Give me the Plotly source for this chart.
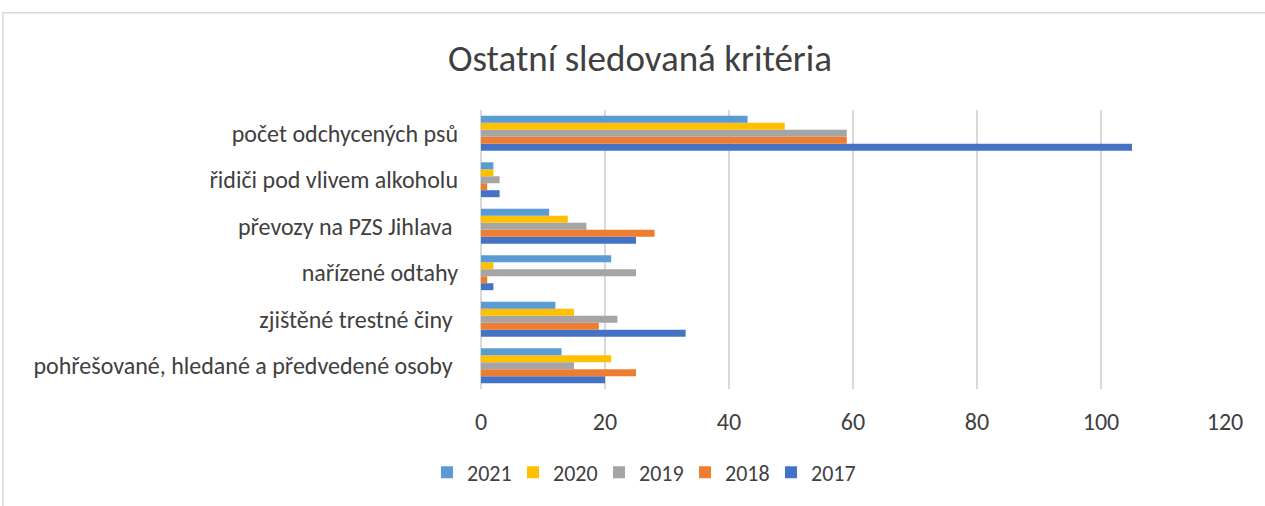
import plotly.graph_objects as go

categories = [
    "pohřešované, hledané a předvedené osoby ",
    "zjištěné trestné činy ",
    "nařízené odtahy",
    "převozy na PZS Jihlava ",
    "řidiči pod vlivem alkoholu",
    "počet odchycených psů",
]
years = ["2017", "2018", "2019", "2020", "2021"]
v2017 = [20, 33, 2, 25, 3, 105]
v2018 = [25, 19, 1, 28, 1, 59]
v2019 = [15, 22, 25, 17, 3, 59]
v2020 = [21, 15, 2, 14, 2, 49]
v2021 = [13, 12, 21, 11, 2, 43]
colors = ["#4472C4", "#ED7D31", "#A5A5A5", "#FFC000", "#5B9BD5"]
x_ticks = [0, 20, 40, 60, 80, 100, 120]

series = [v2017, v2018, v2019, v2020, v2021]

fig = go.Figure()
for name, vals, col in zip(years, series, colors):
    fig.add_trace(go.Bar(
        y=categories, x=vals, name=name, orientation="h",
        marker=dict(color=col, line=dict(width=0)),
    ))

L, R, T, B = 481, 40, 110, 115
PW, PH = 1265 - L - R, 506 - T - B

font_family = "Carlito, Calibri, 'Open Sans', sans-serif"
fig.update_layout(
    width=1265, height=506,
    margin=dict(l=L, r=R, t=T, b=B),
    paper_bgcolor="white", plot_bgcolor="white",
    barmode="group", bargap=0.25, bargroupgap=0,
    title=dict(text="Ostatní sledovaná kritéria", x=640 / 1265, xanchor="center",
               y=1 - 58 / 506, yanchor="middle",
               font=dict(family=font_family, size=37, color="#404040")),
    font=dict(family=font_family, color="#404040"),
    legend=dict(orientation="h", traceorder="reversed", x=(642 - L) / PW, xanchor="center",
                y=-(475 - (T + PH)) / PH, yanchor="middle",
                font=dict(size=22, color="#404040"),
                itemwidth=30, entrywidth=41, entrywidthmode="pixels"),
    xaxis=dict(range=[0, 120], tickvals=x_ticks, showgrid=True, gridcolor="#d9d9d9",
               gridwidth=1.5, zeroline=True, zerolinecolor="#d9d9d9", zerolinewidth=1.5,
               tickfont=dict(size=24, color="#404040"), ticks="",
               ticklabelstandoff=16, fixedrange=True),
    yaxis=dict(tickfont=dict(size=24, color="#404040"), ticks="",
               ticklabelstandoff=22, showgrid=False, fixedrange=True),
    shapes=[dict(type="rect", xref="paper", yref="paper",
                 x0=(3 - L) / PW, x1=1.2, y0=-0.6, y1=1 + (T - 12) / PH,
                 line=dict(color="#d9d9d9", width=1.5))],
)

fig.write_html("out.html", config={"displayModeBar": False},
               post_script="document.body.style.margin='0';")
